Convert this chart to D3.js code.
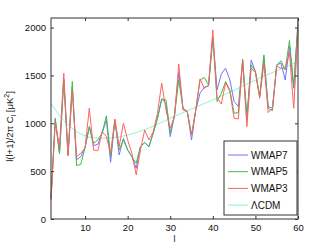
<!DOCTYPE html>
<html>
<head>
<meta charset="utf-8">
<script src="https://cdn.jsdelivr.net/npm/d3@7"></script>
<style>
  html, body { margin: 0; padding: 0; background: #fff; }
  svg { display: block; font-family: "Liberation Sans", Arial, sans-serif; }
</style>
</head>
<body>
<svg width="329" height="247"></svg>
<script>
const multipoles = d3.range(2, 61);

const wmap7 = [216, 1052, 690, 1460, 670, 1380, 617, 652, 746, 965,
    767, 780, 896, 1035, 592, 1035, 669, 843, 721, 652,
    530, 756, 798, 756, 896, 1052, 1255, 1209, 861, 1087,
    1530, 1157, 1122, 826, 1140, 1314, 1376, 1390, 1889, 1349,
    1516, 1575, 1453, 1227, 1175, 1645, 1035, 1662, 1540, 1279,
    1680, 1175, 1157, 1610, 1628, 1453, 1802, 1366, 2080];

const wmap5 = [216, 1040, 680, 1450, 670, 1436, 558, 572, 746, 965,
    791, 826, 896, 1077, 652, 1035, 721, 826, 721, 652,
    582, 756, 798, 756, 896, 1052, 1255, 1244, 903, 1087,
    1453, 1150, 1122, 878, 1140, 1453, 1478, 1401, 1899, 1227,
    1314, 1436, 1349, 1105, 1112, 1670, 1070, 1610, 1540, 1279,
    1715, 1157, 1133, 1610, 1652, 1558, 1865, 1383, 2028];

const wmap3 = [200, 1000, 756, 1523, 660, 1350, 652, 686, 746, 1157,
    721, 714, 913, 861, 686, 1045, 756, 1000, 826, 686,
    460, 721, 930, 826, 913, 1105, 1418, 1140, 948, 1070,
    1620, 1140, 1122, 878, 1140, 1464, 1366, 1401, 1976, 1262,
    1202, 1425, 1331, 1052, 1045, 1660, 965, 1575, 1530, 1262,
    1628, 1112, 1157, 1595, 1575, 1575, 1739, 1157, 1976];

const lcdmL = [2, 4, 6, 8, 10, 12, 14, 16, 18, 20, 25, 30, 35, 40, 45, 50, 55, 60];
const lcdm = [1209, 1080, 985, 913, 870, 848, 843, 846, 858, 878, 950, 1052, 1150, 1244, 1345, 1453, 1550, 1645];

const seriesNames = ["WMAP7", "WMAP5", "WMAP3", "\u039BCDM"];
const xTicks = [10, 20, 30, 40, 50, 60];
const yTicks = [0, 500, 1000, 1500, 2000];

const colors = ["#7373ff", "#44ba44", "#ff6262", "#8ef5c9"];

const margin = {left: 51, right: 31, top: 18, bottom: 28};
const width = 329, height = 247;

const svg = d3.select("svg");
const x = d3.scaleLinear([2, 60], [margin.left, width - margin.right]);
const y = d3.scaleLinear([0, 2100], [height - margin.bottom, margin.top]);

const line = d3.line().x(d => x(d[0])).y(d => y(d[1]));

const series = [
    {name: seriesNames[3], color: colors[3], pts: lcdmL.map((l, i) => [l, lcdm[i]])},
    {name: seriesNames[0], color: colors[0], pts: multipoles.map((l, i) => [l, wmap7[i]])},
    {name: seriesNames[1], color: colors[1], pts: multipoles.map((l, i) => [l, wmap5[i]])},
    {name: seriesNames[2], color: colors[2], pts: multipoles.map((l, i) => [l, wmap3[i]])}
];

// smooth curve for the model, straight segments for the data
svg.append("g").selectAll("path")
    .data(series)
    .join("path")
    .attr("fill", "none")
    .attr("stroke", d => d.color)
    .attr("stroke-width", 1)
    .attr("d", (d, i) => i === 0 ? line.curve(d3.curveMonotoneX)(d.pts) : line.curve(d3.curveLinear)(d.pts));

// axes, ticks inward on all four sides
const tickLen = 3;
const axisColor = "#333";
svg.append("g")
    .attr("transform", `translate(0,${y(0)})`)
    .call(d3.axisBottom(x).tickValues(xTicks).tickSize(-tickLen).tickPadding(5).tickFormat(d3.format("d")))
    .call(g => g.select(".domain").remove());
svg.append("g")
    .attr("transform", `translate(0,${y(2100)})`)
    .call(d3.axisTop(x).tickValues(xTicks).tickSize(-tickLen).tickFormat(""))
    .call(g => g.select(".domain").remove());
svg.append("g")
    .attr("transform", `translate(${x(2)},0)`)
    .call(d3.axisLeft(y).tickValues(yTicks).tickSize(-tickLen).tickPadding(5).tickFormat(d3.format("d")))
    .call(g => g.select(".domain").remove());
svg.append("g")
    .attr("transform", `translate(${x(60)},0)`)
    .call(d3.axisRight(y).tickValues(yTicks).tickSize(-tickLen).tickFormat(""))
    .call(g => g.select(".domain").remove());

svg.selectAll(".tick line").attr("stroke", axisColor);
svg.selectAll(".tick text").attr("font-size", 9.5).attr("fill", "#111")
    .attr("font-family", "Liberation Sans, Arial, sans-serif");

svg.append("rect")
    .attr("x", x(2)).attr("y", y(2100))
    .attr("width", x(60) - x(2)).attr("height", y(0) - y(2100))
    .attr("fill", "none").attr("stroke", axisColor).attr("stroke-width", 1);

// axis labels
svg.append("text")
    .attr("x", (x(2) + x(60)) / 2).attr("y", 242)
    .attr("text-anchor", "middle").attr("font-size", 9).attr("fill", "#111")
    .text("l");

const ylab = svg.append("text")
    .attr("transform", `translate(13,${(y(0) + y(2100)) / 2 + 8}) rotate(-90)`)
    .attr("text-anchor", "middle").attr("font-size", 9.5).attr("fill", "#111");
ylab.append("tspan").text("l(l+1)/2\u03C0 C");
ylab.append("tspan").attr("font-size", 7).attr("dy", 2.5).text("l");
ylab.append("tspan").attr("dy", -2.5).text(" [\u03BCK");
ylab.append("tspan").attr("font-size", 7).attr("dy", -4).text("2");
ylab.append("tspan").attr("dy", 4).text("]");

// legend
const legendOrder = [1, 2, 3, 0];
const lg = svg.append("g").attr("transform", "translate(224,141)");
lg.append("rect")
    .attr("width", 73).attr("height", 74)
    .attr("fill", "#fff").attr("stroke", axisColor).attr("stroke-width", 1);
const items = lg.selectAll(".item")
    .data(legendOrder.map(i => series[i]))
    .join("g")
    .attr("class", "item")
    .attr("transform", (d, i) => `translate(0,${14 + i * 16.7})`);
items.append("line")
    .attr("x1", 4).attr("x2", 24)
    .attr("stroke", d => d.color).attr("stroke-width", 1);
items.append("text")
    .attr("x", 27).attr("dy", "0.35em")
    .attr("font-size", 10).attr("fill", "#111")
    .text(d => d.name);
</script>
</body>
</html>
